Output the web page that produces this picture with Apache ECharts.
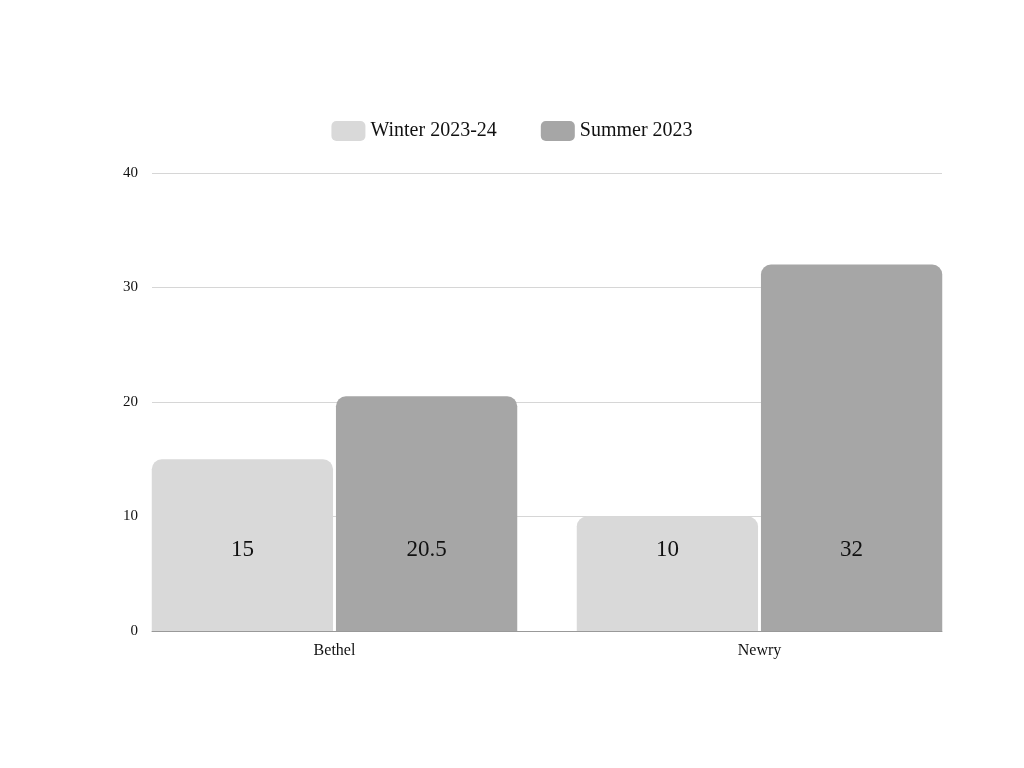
<!DOCTYPE html>
<html><head><meta charset="utf-8">
<script src="https://cdn.jsdelivr.net/npm/echarts@6/dist/echarts.min.js"></script>
<style>html,body{margin:0;background:#fff}#c{width:1024px;height:768px}</style>
</head><body><div id="c"></div>
<script>
var categories = ['Bethel', 'Newry'];
var winter = [15, 10];
var summer = [20.5, 32];
var yTicks = [0, 10, 20, 30, 40];

var font = 'Liberation Serif';
var chart = echarts.init(document.getElementById('c'));
var barLabel = {
  show: true, position: 'insideBottom', distance: 70,
  fontFamily: font, fontSize: 23, color: '#111'
};
chart.setOption({
  animation: false,
  textStyle: { fontFamily: font },
  legend: {
    top: 116, left: 'center', itemWidth: 34, itemHeight: 20, itemGap: 44,
    icon: 'roundRect',
    textStyle: { fontFamily: font, fontSize: 20, color: '#111' },
    data: ['Winter 2023-24', 'Summer 2023']
  },
  grid: [
    { left: 122, right: 52, top: 173, bottom: 137 },
    { left: 152, right: 82, top: 173, bottom: 137 }
  ],
  xAxis: [
    { type: 'category', gridIndex: 0, data: categories,
      axisLine: { show: false }, axisTick: { show: false },
      axisLabel: { fontFamily: font, fontSize: 16, color: '#111', margin: 12 } },
    { type: 'value', gridIndex: 1, min: 0, max: 1,
      axisLine: { show: true, lineStyle: { color: '#999' } },
      axisTick: { show: false }, axisLabel: { show: false }, splitLine: { show: false } }
  ],
  yAxis: [
    { type: 'value', gridIndex: 0, min: yTicks[0], max: yTicks[yTicks.length - 1], show: false },
    { type: 'value', gridIndex: 1, min: yTicks[0], max: yTicks[yTicks.length - 1], interval: 10,
      axisLine: { show: false }, axisTick: { show: false },
      axisLabel: { fontFamily: font, fontSize: 15, color: '#111', margin: 14 },
      splitLine: { lineStyle: { color: '#d6d6d6' } } }
  ],
  series: [
    { name: 'Winter 2023-24', type: 'bar', xAxisIndex: 0, yAxisIndex: 0, data: winter,
      barGap: '1.6%', barCategoryGap: '14%',
      itemStyle: { color: '#d9d9d9', borderRadius: [10, 10, 0, 0] }, label: barLabel },
    { name: 'Summer 2023', type: 'bar', xAxisIndex: 0, yAxisIndex: 0, data: summer,
      itemStyle: { color: '#a6a6a6', borderRadius: [10, 10, 0, 0] }, label: barLabel },
    { type: 'line', xAxisIndex: 1, yAxisIndex: 1, data: [], silent: true }
  ]
});
</script></body></html>
